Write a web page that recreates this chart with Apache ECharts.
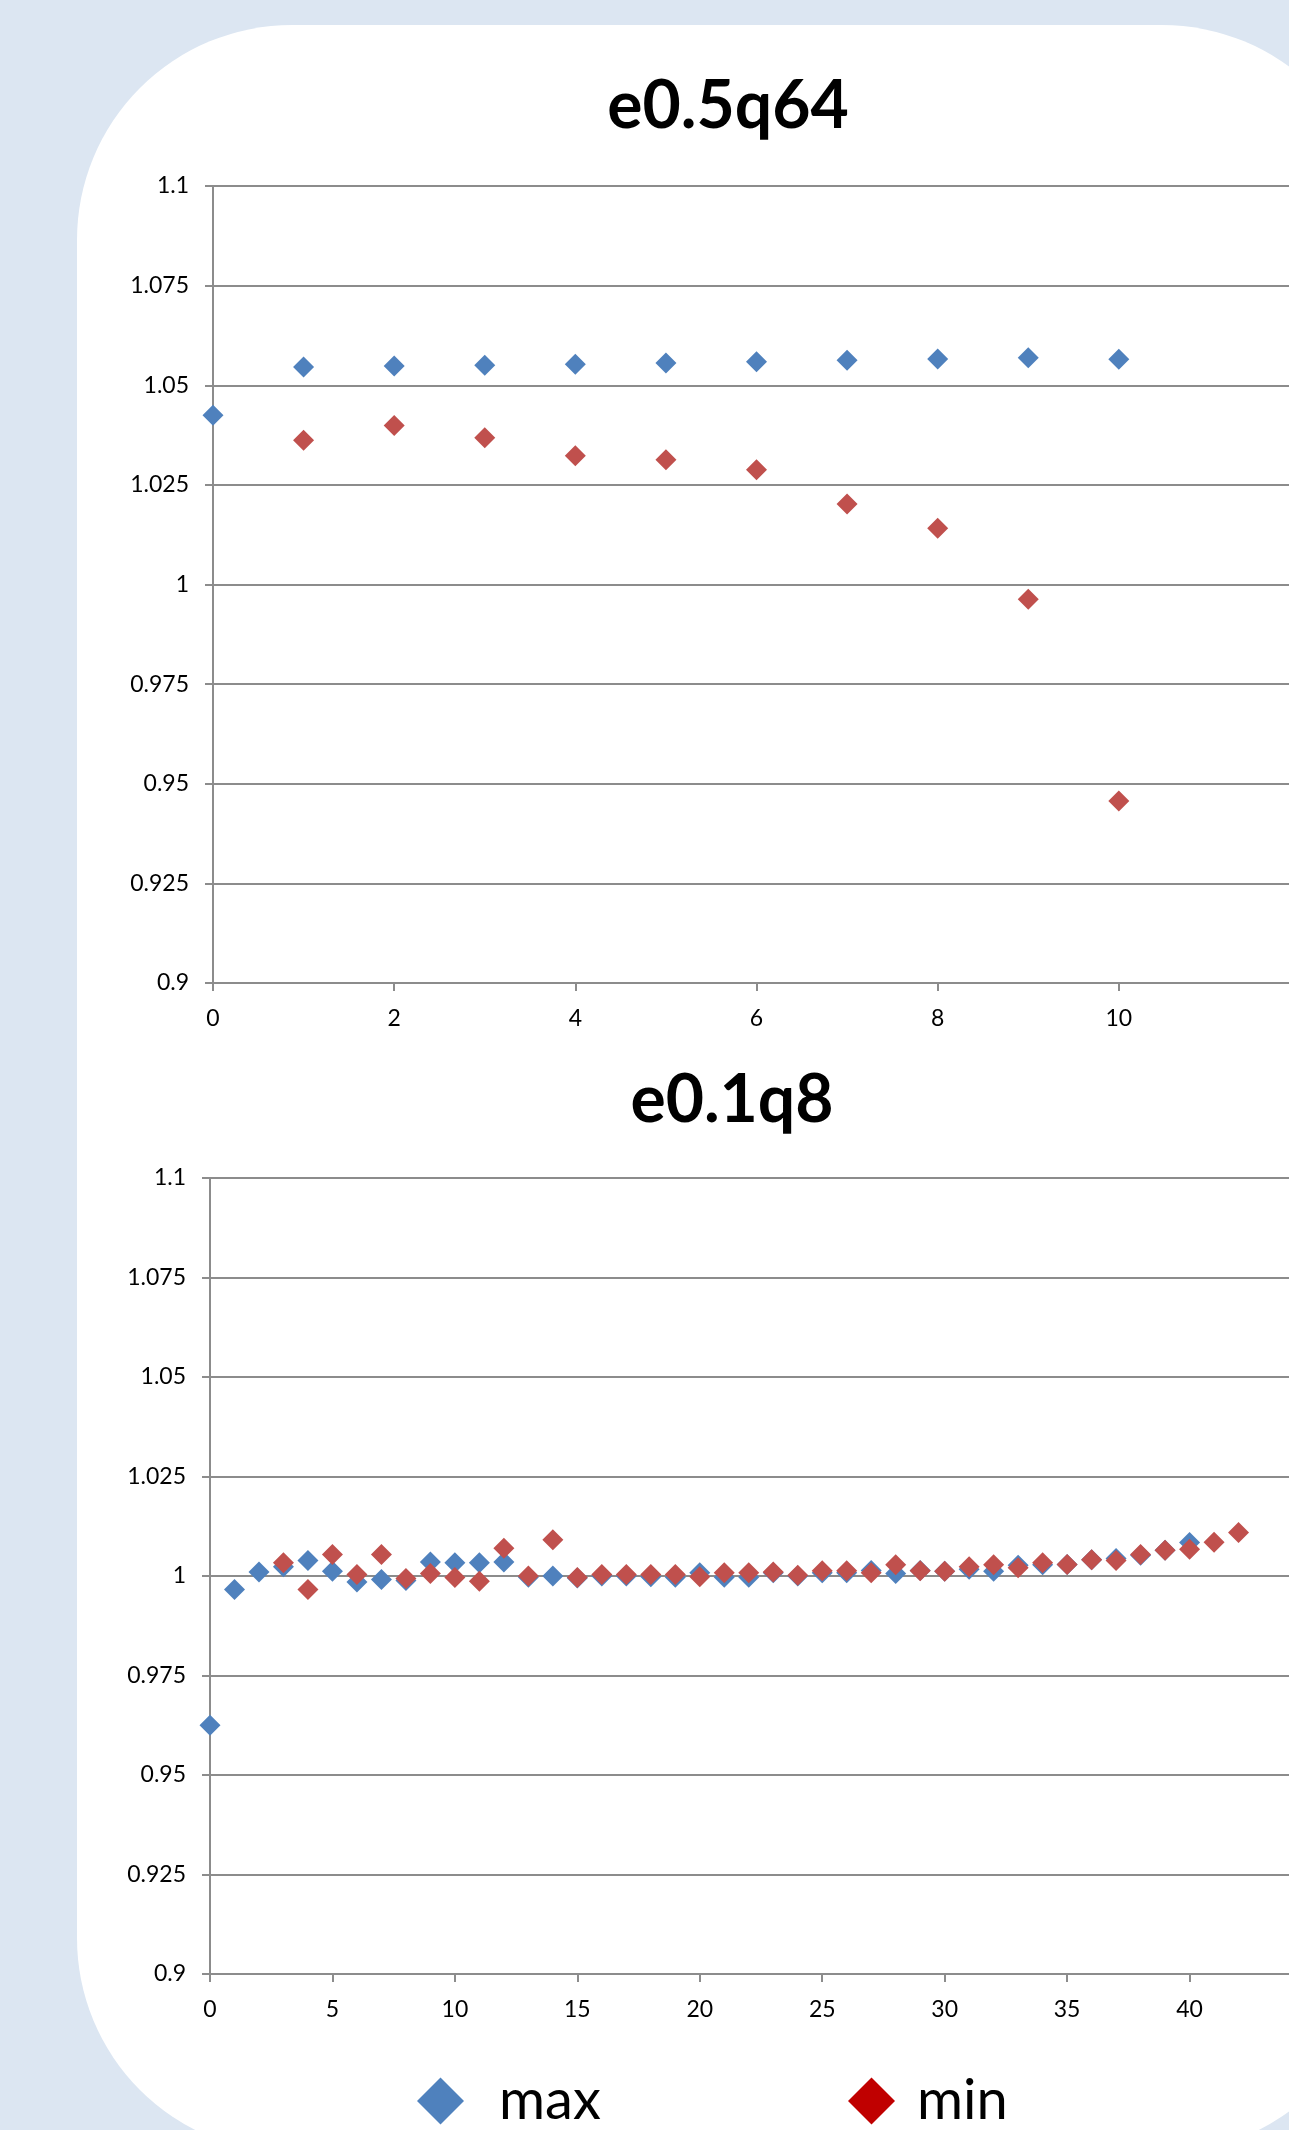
<!DOCTYPE html>
<html>
<head>
<meta charset="utf-8">
<script src="https://cdn.jsdelivr.net/npm/echarts@6/dist/echarts.min.js"></script>
<style>
html,body{margin:0;padding:0;background:#DCE6F2;}
#chart{width:1289px;height:2130px;}
</style>
</head>
<body>
<div id="chart"></div>
<script>
// ---- Data ----
var titles = ['e0.5q64', 'e0.1q8'];
var seriesNames = ['max', 'min'];

// chart 1: e0.5q64
var topMaxX = [0, 1, 2, 3, 4, 5, 6, 7, 8, 9, 10];
var topMaxY = [1.0425, 1.0546, 1.0548, 1.0550, 1.0553, 1.0556, 1.0559, 1.0563, 1.0566, 1.0569, 1.0565];
var topMinX = [1, 2, 3, 4, 5, 6, 7, 8, 9, 10];
var topMinY = [1.0362, 1.0399, 1.0368, 1.0323, 1.0313, 1.0288, 1.0202, 1.0141, 0.9963, 0.9457];

// chart 2: e0.1q8
var botMaxX = [0,1,2,3,4,5,6,7,8,9,10,11,12,13,14,15,16,17,18,19,20,21,22,23,24,25,26,27,28,29,30,31,32,33,34,35,36,37,38,39,40];
var botMaxY = [0.9625,0.9966,1.0010,1.0023,1.0039,1.0012,0.9985,0.9991,0.9989,1.0035,1.0033,1.0033,1.0035,0.9997,1.0000,0.9995,1.0000,1.0000,0.9998,0.9997,1.0008,0.9997,0.9997,1.0008,1.0000,1.0008,1.0008,1.0014,1.0006,1.0014,1.0012,1.0017,1.0012,1.0027,1.0028,1.0029,1.0041,1.0044,1.0052,1.0065,1.0084];
var botMinX = [3,4,5,6,7,8,9,10,11,12,13,14,15,16,17,18,19,20,21,22,23,24,25,26,27,28,29,30,31,32,33,34,35,36,37,38,39,40,41,42];
var botMinY = [1.0033,0.9966,1.0054,1.0004,1.0054,0.9994,1.0006,0.9996,0.9987,1.0070,1.0000,1.0091,0.9996,1.0004,1.0004,1.0004,1.0004,0.9998,1.0008,1.0008,1.0010,1.0002,1.0013,1.0013,1.0008,1.0028,1.0013,1.0012,1.0023,1.0028,1.0021,1.0033,1.0029,1.0041,1.0039,1.0054,1.0065,1.0067,1.0085,1.0109];

// tick labels
var yTickLabels = ['0.9', '0.925', '0.95', '0.975', '1', '1.025', '1.05', '1.075', '1.1'];
var topXTickLabels = ['0', '2', '4', '6', '8', '10', '12'];
var botXTickLabels = ['0', '5', '10', '15', '20', '25', '30', '35', '40', '45'];

// ---- Build ----
function pairs(xs, ys) { return xs.map(function (x, i) { return [x, ys[i]]; }); }

var BLUE = '#4F81BD', RED = '#C0504D', LEG_RED = '#C00000';
var GRID_C = '#8C8C8C';
var FONT = 'Lato, "Open Sans", sans-serif';

function yLabel(v) {
  var idx = Math.round((v - 0.9) / 0.025);
  return yTickLabels[idx] !== undefined ? yTickLabels[idx] : '';
}
function xAxisDef(gridIndex, max, interval, labels) {
  return {
    type: 'value', gridIndex: gridIndex, min: 0, max: max, interval: interval,
    axisLine: { show: true, onZero: false, lineStyle: { color: GRID_C, width: 2 } },
    axisTick: { show: true, length: 8, lineStyle: { color: GRID_C, width: 2 } },
    splitLine: { show: false },
    axisLabel: {
      margin: 24, color: '#000', fontSize: 23, fontFamily: FONT, showMaxLabel: false,
      formatter: function (v) { return labels[Math.round(v / interval)]; }
    }
  };
}
function yAxisDef(gridIndex) {
  return {
    type: 'value', gridIndex: gridIndex, min: 0.9, max: 1.1, interval: 0.025,
    axisLine: { show: true, onZero: false, lineStyle: { color: GRID_C, width: 2 } },
    axisTick: { show: true, length: 8, lineStyle: { color: GRID_C, width: 2 } },
    splitLine: { show: true, lineStyle: { color: GRID_C, width: 2 } },
    axisLabel: { margin: 24, color: '#000', fontSize: 23, fontFamily: FONT, formatter: yLabel }
  };
}
function scatter(name, xi, data, color) {
  return {
    name: name, type: 'scatter', xAxisIndex: xi, yAxisIndex: xi,
    symbol: 'diamond', symbolSize: 21, data: data,
    itemStyle: { color: color, opacity: 1 },
    emphasis: { disabled: true }
  };
}

var chart = echarts.init(document.getElementById('chart'), null, { renderer: 'canvas' });
chart.setOption({
  backgroundColor: '#DCE6F2',
  animation: false,
  graphic: [
    { type: 'rect', z: -10, silent: true,
      shape: { x: 77, y: 25, width: 1300, height: 2128, r: 215 },
      style: { fill: '#FFFFFF' } },
    { type: 'text', z: 10, x: 728, y: 107, silent: true,
      style: { text: titles[0], fill: '#000', font: 'bold 66px ' + FONT, textAlign: 'center', textVerticalAlign: 'middle' } },
    { type: 'text', z: 10, x: 732, y: 1101, silent: true,
      style: { text: titles[1], fill: '#000', font: 'bold 66px ' + FONT, textAlign: 'center', textVerticalAlign: 'middle' } }
  ],
  grid: [
    { left: 213, top: 186, width: 1087, height: 797, containLabel: false, outerBoundsMode: 'none' },
    { left: 210, top: 1178, width: 1102, height: 796, containLabel: false, outerBoundsMode: 'none' }
  ],
  xAxis: [
    xAxisDef(0, 12, 2, topXTickLabels),
    xAxisDef(1, 45, 5, botXTickLabels)
  ],
  yAxis: [yAxisDef(0), yAxisDef(1)],
  legend: [
    { left: 412, top: 2068, itemWidth: 47, itemHeight: 47, selectedMode: false,
      data: [{ name: seriesNames[0], icon: 'diamond', itemStyle: { color: BLUE } }],
      textStyle: { fontSize: 56, fontFamily: FONT, color: '#000', padding: [0, 0, 0, 30] } },
    { left: 843, top: 2068, itemWidth: 47, itemHeight: 47, selectedMode: false,
      data: [{ name: seriesNames[1], icon: 'diamond', itemStyle: { color: LEG_RED } }],
      textStyle: { fontSize: 56, fontFamily: FONT, color: '#000', padding: [0, 0, 0, 17] } }
  ],
  series: [
    scatter(seriesNames[0], 0, pairs(topMaxX, topMaxY), BLUE),
    scatter(seriesNames[1], 0, pairs(topMinX, topMinY), RED),
    scatter(seriesNames[0], 1, pairs(botMaxX, botMaxY), BLUE),
    scatter(seriesNames[1], 1, pairs(botMinX, botMinY), RED)
  ]
});
</script>
</body>
</html>
